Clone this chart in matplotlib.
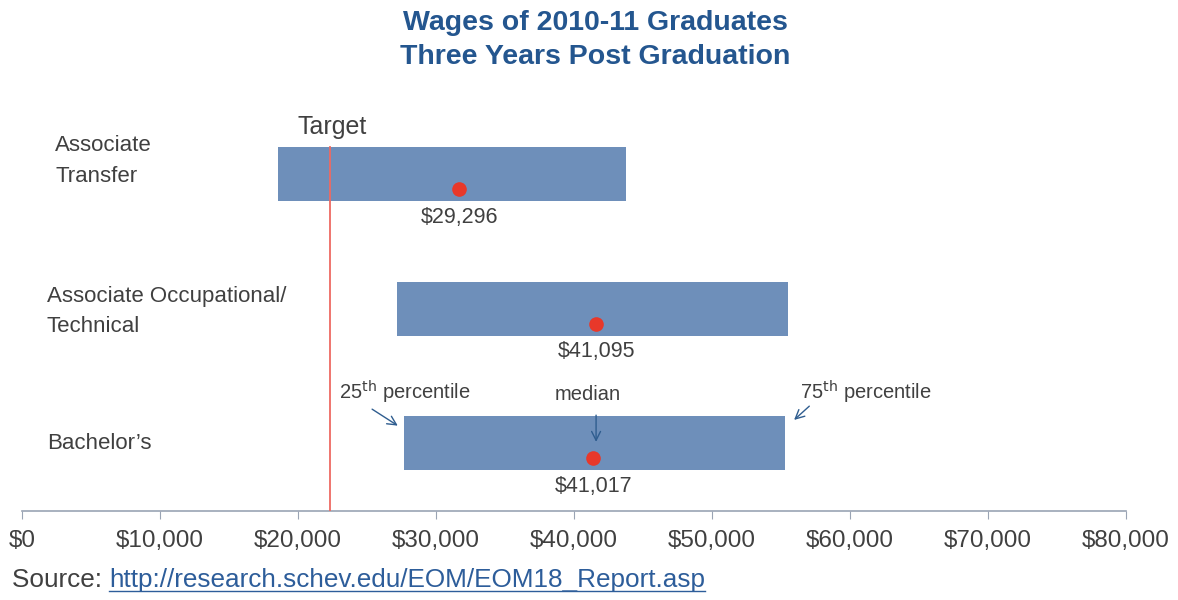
import matplotlib
matplotlib.use('Agg')
import matplotlib.pyplot as plt

# data
groups = ['Bachelor\u2019s', 'Associate Occupational/\nTechnical', 'Associate\nTransfer']
p25 = [27700, 27200, 18550]
p75 = [55300, 55500, 43770]
median_pos = [41400, 41600, 31700]
median_txt = ['$41,017', '$41,095', '$29,296']
target = 22300
ticks = list(range(0, 80001, 10000))
tick_labels = ['$0', '$10,000', '$20,000', '$30,000', '$40,000', '$50,000', '$60,000', '$70,000', '$80,000']

font = ['Liberation Sans', 'DejaVu Sans']
grey = '#404040'
bar_col = '#6e8fba'
blue = '#24568f'

fig = plt.figure(figsize=(11.78, 6), dpi=100)
ax = fig.add_axes([22 / 1178, 0.149, (1126 - 22) / 1178, 0.8667 - 0.149])

ypos = list(range(len(groups)))
ax.barh(ypos, [b - a for a, b in zip(p25, p75)], left=p25, height=0.40, color=bar_col, zorder=2)
ax.plot(median_pos, [y - 0.11 for y in ypos], 'o', color='#e8382a', markersize=9.5, zorder=4)
for y, m, t in zip(ypos, median_pos, median_txt):
    ax.text(m, y - 0.32, t, ha='center', va='center', fontsize=15.5, color=grey, family=font)

# category labels
ax.text(2400, 2.1, groups[2], ha='left', va='center', fontsize=16, color=grey, family=font, linespacing=1.6)
ax.text(1800, 0.98, groups[1], ha='left', va='center', fontsize=16, color=grey, family=font, linespacing=1.6)
ax.text(1800, 0.0, groups[0], ha='left', va='center', fontsize=16, color=grey, family=font)

# target line
ax.plot([target, target], [-0.5, 2.2], color='#ee6a62', linewidth=1.3, zorder=3)
ax.text(target + 200, 2.35, 'Target', ha='center', va='center', fontsize=18, color=grey, family=font)

# annotations
arrow = dict(arrowstyle='->', color='#2f5d8f', lw=1.0, mutation_scale=16)
ax.annotate('', xy=(27400, 0.12), xytext=(25200, 0.265), arrowprops=arrow)
ax.annotate('', xy=(55800, 0.16), xytext=(57200, 0.29), arrowprops=arrow)
ax.annotate('', xy=(41600, -0.01), xytext=(41600, 0.23), arrowprops=arrow, zorder=5)
ax.text(23000, 0.375, '25$^{\\mathrm{th}}$ percentile', ha='left', va='center', fontsize=14.5, color=grey, family=font)
ax.text(41000, 0.36, 'median', ha='center', va='center', fontsize=14.5, color=grey, family=font)
ax.text(56400, 0.375, '75$^{\\mathrm{th}}$ percentile', ha='left', va='center', fontsize=14.5, color=grey, family=font)

ax.set_xlim(0, 80000)
ax.set_ylim(-0.5, 2.7)
ax.set_yticks([])
ax.set_xticks(ticks)
ax.set_xticklabels(tick_labels, fontsize=17.5, color=grey, family=font)
ax.tick_params(axis='x', length=6, color='#9aa4b4', pad=8)
for s in ['top', 'right', 'left']:
    ax.spines[s].set_visible(False)
ax.spines['bottom'].set_color('#9aa4b4')
ax.spines['bottom'].set_linewidth(1.2)

fig.text(595 / 1178, 1 - 40 / 600, 'Wages of 2010-11 Graduates\nThree Years Post Graduation', ha='center', va='center',
         fontsize=20.5, fontweight='bold', color=blue, family=font, linespacing=1.45)
t1 = fig.text(12 / 1178, 1 - 580 / 600, 'Source: ', ha='left', va='center', fontsize=18.8, color=grey, family=font)
fig.canvas.draw()
bb = t1.get_window_extent()
link = fig.text(bb.x1 / 1178, 1 - 580 / 600, 'http://research.schev.edu/EOM/EOM18_Report.asp', ha='left', va='center',
                fontsize=18.8, color='#2d5d9a', family=font)
# underline the link
fig.canvas.draw()
lb = link.get_window_extent()
fig.add_artist(plt.Line2D([lb.x0 / 1178, lb.x1 / 1178], [(lb.y0 + 1) / 600, (lb.y0 + 1) / 600], color='#2d5d9a', lw=1))

fig.savefig('out.png', dpi=100)
